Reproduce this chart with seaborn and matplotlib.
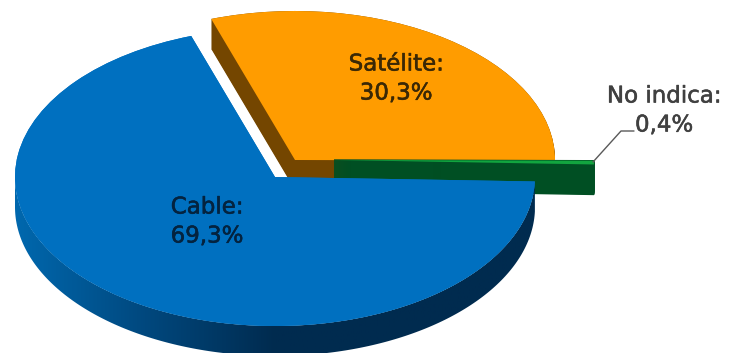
import numpy as np
import matplotlib
matplotlib.use("Agg")
import matplotlib.pyplot as plt
import matplotlib.patheffects as pe
from matplotlib.patches import Polygon
import seaborn as sns

# Data
categories = ["Cable", "No indica", "Satélite"]
shares = [69.3, 0.4, 30.3]

# Colours: top face, side face
top_colors = ["#0070c0", "#12a53f", "#ff9c00"]
side_colors = ["#002b4f", "#004f23", "#744600"]
text_colors = ["#04233f", "#404040", "#3a2806"]

sns.set_theme(style="white")
plt.rcParams["font.family"] = ["DejaVu Sans"]

W, H = 730, 353
CX, CY, RX, RY = 275, 177, 260, 149
DEPTH = 30
START = 108.8


def to_data(px, py):
    return (px - CX) / RX, (CY - py) / RY


# slice centres in pixels of the picture
centers = [(275, 177), (334, 160), (295, 160)]

fig = plt.figure(figsize=(W / 100, H / 100), dpi=100)
ax = fig.add_axes([0, 0, 1, 1])


def draw_slice(idx, center, color, z, edge=False):
    wedges = ax.pie(shares, startangle=START, colors=top_colors, radius=1,
                    wedgeprops={"linewidth": 0})[0]
    for i, w in enumerate(wedges):
        if i == idx:
            w.set_center(center)
            w.set_facecolor(color)
            w.set_zorder(z)
            if edge:
                # keeps the thin apex of the slice solid when stacked
                w.set_edgecolor(color)
                w.set_linewidth(1)
        else:
            w.remove()


# back to front: orange, green, blue
for order, idx in enumerate([2, 1, 0]):
    cx, cy = to_data(*centers[idx])
    base = order * 10 + 1
    if idx != 0:
        for d in range(DEPTH + 1):
            draw_slice(idx, (cx, cy - d / RY), side_colors[idx], base, edge=idx == 1)
    draw_slice(idx, (cx, cy), top_colors[idx], base + 1)

# blue front wall with the left to right shading
end_angle = START + shares[0] / sum(shares) * 360
theta = np.radians(np.linspace(180, end_angle, 200))
wall_top = np.column_stack([np.cos(theta), np.sin(theta)])
wall_low = np.column_stack([np.cos(theta), np.sin(theta) - DEPTH / RY])
wall = Polygon(np.vstack([wall_top, wall_low[::-1]]), closed=True,
               transform=ax.transData, facecolor="none", edgecolor="none")
ax.add_patch(wall)
shade = sns.blend_palette(["#0068ae", "#00487e", "#002b4f", "#002b4f", "#002b4f"], as_cmap=True)
img = ax.imshow(np.linspace(0, 1, 256).reshape(1, -1), cmap=shade, aspect="auto",
                extent=(-1, 1, -1.5, 1), zorder=20)
img.set_clip_path(wall)
cx, cy = to_data(*centers[0])
draw_slice(0, (cx, cy), top_colors[0], 21)

ax.set_aspect("auto")
ax.set_xlim(to_data(0, 0)[0], to_data(W, 0)[0])
ax.set_ylim(to_data(0, H)[1], to_data(0, 0)[1])
ax.axis("off")

# Labels
label_pos = [(207, 207, 236), (664, 96, 125), (396, 64, 93)]
for name, val, (x, y1, y2), col in zip(categories, shares, label_pos, text_colors):
    pct = f"{val:.1f}%".replace(".", ",")
    for label, y in [(name + ":", y1), (pct, y2)]:
        t = fig.text(x / W, 1 - y / H, label, ha="center", va="center", fontsize=16.5, color=col)
        t.set_path_effects([pe.withStroke(linewidth=0.4, foreground=col)])

# leader line for the small slice
lx, ly = zip(*[to_data(593, 162), to_data(621, 131), to_data(634, 131)])
ax.plot(lx, ly, color="#595959", lw=1, zorder=30)

fig.savefig("out.png", dpi=100)
